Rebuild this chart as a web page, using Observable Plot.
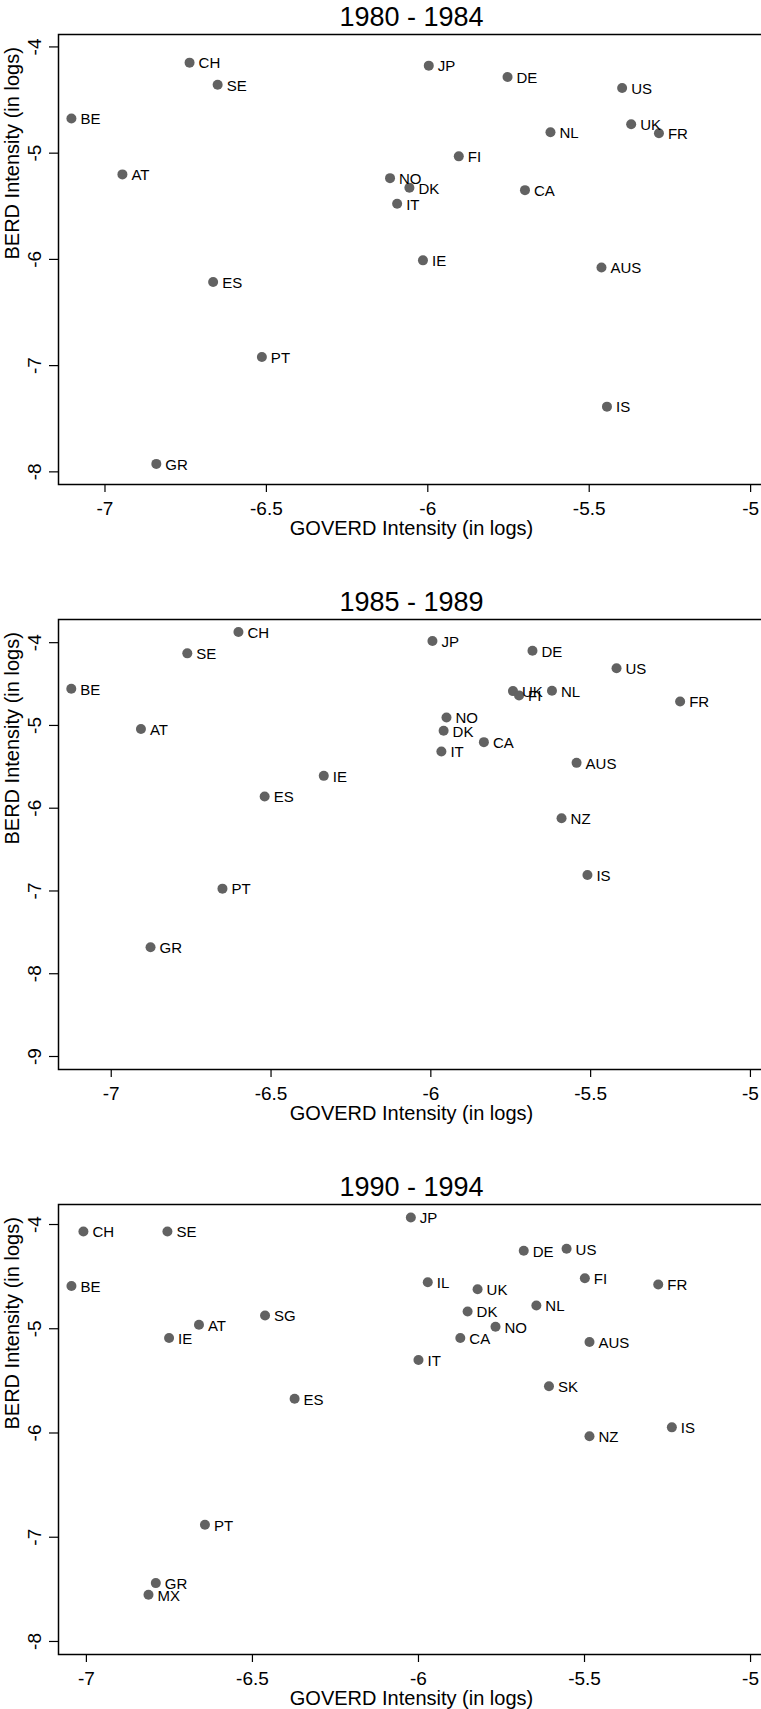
<!DOCTYPE html>
<html>
<head>
<meta charset="utf-8">
<script src="https://cdn.jsdelivr.net/npm/d3@7"></script>
<script src="https://cdn.jsdelivr.net/npm/@observablehq/plot@0.6"></script>
<style>
  html, body { margin: 0; padding: 0; background: #fff; overflow: hidden; }
  #chart { width: 770px; }
  #chart svg { display: block; max-width: none !important; width: 770px; }
</style>
</head>
<body>
<div id="chart"></div>
<script>
// ---- Data ----
const titles = ["1980 - 1984", "1985 - 1989", "1990 - 1994"];
const xLabel = "GOVERD Intensity (in logs)";
const yLabel = "BERD Intensity (in logs)";

const countries1 = ["CH","SE","BE","AT","JP","DE","US","UK","FR","NL","FI","NO","DK","IT","CA","IE","AUS","ES","PT","IS","GR"];
const goverd1 = [-6.738,-6.651,-7.104,-6.946,-5.997,-5.753,-5.398,-5.370,-5.284,-5.620,-5.904,-6.117,-6.057,-6.095,-5.699,-6.015,-5.462,-6.665,-6.514,-5.445,-6.841];
const berd1 = [-4.148,-4.356,-4.674,-5.200,-4.176,-4.283,-4.387,-4.728,-4.813,-4.803,-5.030,-5.235,-5.326,-5.477,-5.348,-6.009,-6.076,-6.213,-6.918,-7.386,-7.925];

const countries2 = ["CH","SE","BE","AT","JP","DE","US","UK","FI","NL","FR","NO","DK","CA","IT","AUS","IE","ES","NZ","IS","PT","GR"];
const goverd2 = [-6.602,-6.762,-7.125,-6.907,-5.995,-5.682,-5.419,-5.743,-5.724,-5.621,-5.220,-5.951,-5.960,-5.834,-5.967,-5.544,-6.335,-6.520,-5.591,-5.510,-6.652,-6.877];
const berd2 = [-3.871,-4.129,-4.556,-5.044,-3.980,-4.097,-4.310,-4.585,-4.637,-4.581,-4.710,-4.903,-5.065,-5.202,-5.315,-5.452,-5.609,-5.859,-6.121,-6.806,-6.972,-7.681];

const countries3 = ["JP","CH","SE","DE","US","BE","IL","UK","FI","FR","NL","DK","SG","AT","NO","IE","CA","AUS","IT","SK","ES","IS","NZ","PT","GR","MX"];
const goverd3 = [-6.023,-7.009,-6.756,-5.683,-5.554,-7.045,-5.972,-5.822,-5.499,-5.278,-5.645,-5.852,-6.462,-6.661,-5.768,-6.751,-5.874,-5.485,-6.000,-5.607,-6.373,-5.237,-5.485,-6.643,-6.791,-6.813];
const berd3 = [-3.933,-4.067,-4.067,-4.252,-4.232,-4.589,-4.554,-4.621,-4.516,-4.576,-4.777,-4.834,-4.873,-4.962,-4.981,-5.089,-5.089,-5.127,-5.299,-5.551,-5.672,-5.946,-6.032,-6.880,-7.440,-7.552];

const xTicks = [-7, -6.5, -6, -5.5, -5];
const yTicks1 = [-8, -7, -6, -5, -4];
const yTicks2 = [-9, -8, -7, -6, -5, -4];
const yTicks3 = [-8, -7, -6, -5, -4];

const xDomains = [[-7.144, -4.957], [-7.165, -4.956], [-7.084, -4.958]];
const yDomains = [[-8.119, -3.883], [-9.157, -3.72], [-8.125, -3.808]];

// ---- Build panels ----
const panels = [
  {title: titles[0], c: countries1, x: goverd1, y: berd1, yt: yTicks1},
  {title: titles[1], c: countries2, x: goverd2, y: berd2, yt: yTicks2},
  {title: titles[2], c: countries3, x: goverd3, y: berd3, yt: yTicks3}
];

const fmt = d => String(d);
const container = document.getElementById("chart");

panels.forEach((p, i) => {
  const data = p.c.map((name, j) => ({name, x: p.x[j], y: p.y[j]}));
  const last = i === panels.length - 1;
  const chart = Plot.plot({
    width: 770,
    height: last ? 539 : 585,
    marginLeft: 58,
    marginRight: 6,
    marginTop: 34,
    marginBottom: last ? 55 : 101,
    style: {fontFamily: "'Liberation Sans', Arial, sans-serif", background: "#fff", color: "#000", overflow: "visible"},
    x: {domain: xDomains[i]},
    y: {domain: yDomains[i]},
    marks: [
      Plot.frame({stroke: "#000", strokeWidth: 1.5}),
      Plot.axisX({ticks: xTicks, tickSize: 8, tickPadding: 9, tickFormat: fmt, fontSize: 19, label: null, strokeWidth: 1.2}),
      Plot.axisY({ticks: p.yt, tickSize: 9, tickPadding: 9, tickRotate: -90, tickFormat: fmt, fontSize: 19, label: null, strokeWidth: 1.2}),
      Plot.dot(data, {x: "x", y: "y", r: 5, fill: "#626262", stroke: null}),
      Plot.text(data, {x: "x", y: "y", text: "name", textAnchor: "start", dx: 9, dy: 1, fontSize: 15, fill: "#000"}),
      Plot.text([p.title], {text: d => d, frameAnchor: "top", lineAnchor: "bottom", dy: -9, fontSize: 27, fill: "#000"}),
      Plot.text([xLabel], {text: d => d, frameAnchor: "bottom", lineAnchor: "bottom", dy: 50, fontSize: 20, fill: "#000"}),
      Plot.text([yLabel], {text: d => d, frameAnchor: "left", rotate: -90, lineAnchor: "bottom", dx: -40, fontSize: 20, fill: "#000"})
    ]
  });
  container.appendChild(chart);
});
</script>
</body>
</html>
